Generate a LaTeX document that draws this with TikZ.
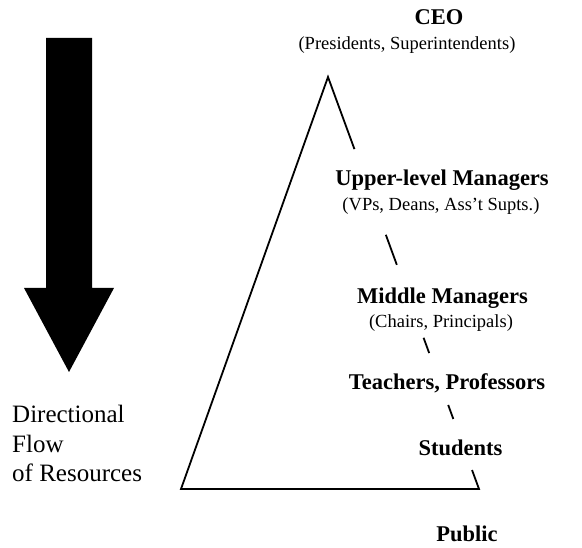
\documentclass[tikz,border=0pt]{standalone}
\usepackage{fontspec}
\setmainfont{Liberation Serif}
\usetikzlibrary{calc}

\begin{document}
\begin{tikzpicture}[x=1pt,y=-1pt,
  rank/.style={anchor=base,inner sep=0pt,font=\fontsize{22.5}{27}\selectfont\bfseries},
  who/.style={anchor=base,inner sep=0pt,font=\fontsize{18.5}{22}\selectfont},
  flowtext/.style={anchor=base west,inner sep=0pt,font=\fontsize{25}{30}\selectfont},
  side/.style={line width=1.8pt}]
\useasboundingbox (0,0) rectangle (582,548);

% big arrow on the left
\fill (46,38) -- (92,38) -- (92,288) -- (114,288) -- (69,372) -- (24,288) -- (46,288) -- cycle;
\node[flowtext] (flowa) at (12,423) {Directional};
\node[flowtext] (flowb) at (12,453) {Flow};
\node[flowtext] (flowc) at (12,482) {of Resources};

% levels
\node[rank] (ceo) at (439,25) {CEO};
\node[who] (ceowho) at (407,50) {(Presidents, Superintendents)};
\node[rank] (upper) at (442,186) {Upper-level Managers};
\node[who] (upperwho) at (441,211) {(VPs, Deans, Ass't Supts.)};
\node[rank] (middle) at (442.5,304) {Middle Managers};
\node[who] (middlewho) at (441,328) {(Chairs, Principals)};
\node[rank] (teach) at (447,390) {Teachers, Professors};
\node[rank] (stud) at (460.5,456) {Students};
\node[rank] (pub) at (467,541) {Public};

% pyramid, right side broken by the labels
\coordinate (top) at (328,77);
\coordinate (bl) at (181,489);
\coordinate (br) at (479,489);
\draw[side,line join=miter] ($(top)!0.175!(br)$) -- (top) -- (bl) -- (br) -- ($(top)!0.954!(br)$);
\draw[side] ($(top)!0.383!(br)$) -- ($(top)!0.456!(br)$);
\draw[side] ($(top)!0.633!(br)$) -- ($(top)!0.670!(br)$);
\draw[side] ($(top)!0.796!(br)$) -- ($(top)!0.830!(br)$);
\end{tikzpicture}
\end{document}
